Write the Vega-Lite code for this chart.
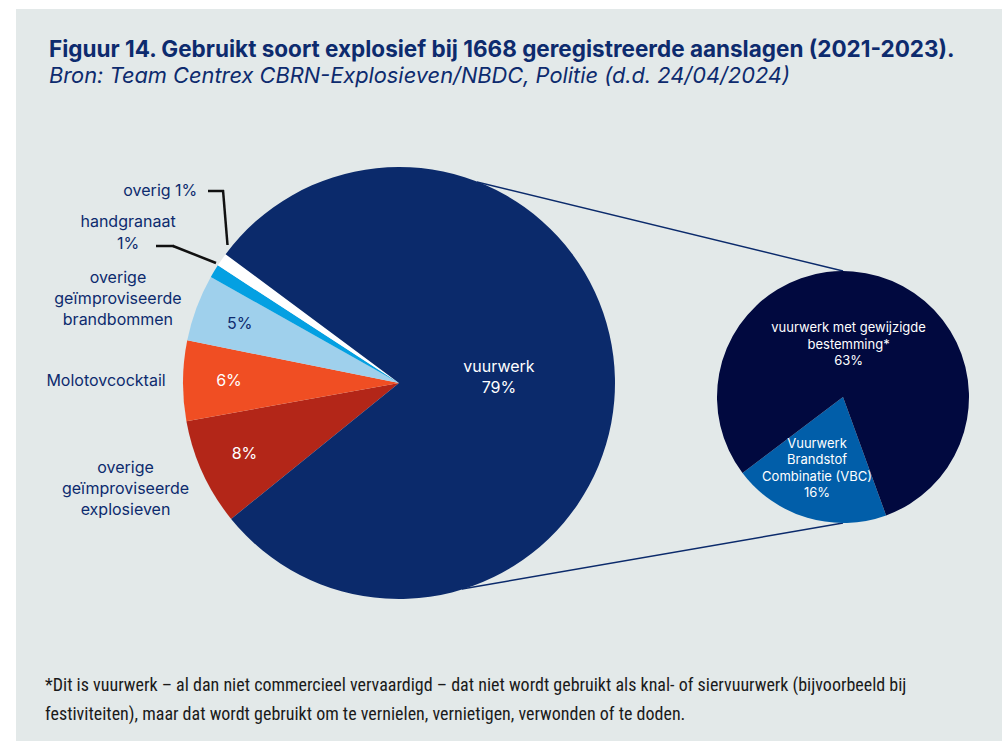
{
  "$schema": "https://vega.github.io/schema/vega-lite/v6.json",
  "width": 1002,
  "height": 741,
  "autosize": {"type": "fit", "contains": "padding"},
  "padding": {"left": 16, "top": 9, "right": 0, "bottom": 0},
  "background": "#ffffff",
  "config": {"view": {"fill": "#e3e9e9", "stroke": null}, "text": {"font": "Inter"}},
  "title": {
    "text": "Figuur 14. Gebruikt soort explosief bij 1668 geregistreerde aanslagen (2021-2023).",
    "subtitle": "Bron: Team Centrex CBRN-Explosieven/NBDC, Politie (d.d. 24/04/2024)",
    "anchor": "start",
    "frame": "group",
    "offset": -79,
    "dx": 33,
    "font": "Inter",
    "fontSize": 22.5,
    "fontWeight": "bold",
    "color": "#0d2b6e",
    "subtitleFont": "Inter",
    "subtitleFontSize": 21.8,
    "subtitleFontStyle": "italic",
    "subtitleColor": "#0d2b6e",
    "subtitlePadding": 5
  },
  "datasets": {
    "main": [
      {"nr": 1, "cat": "explosieven", "pct": 8, "label": "overige\ngeïmproviseerde\nexplosieven", "inside": "8%"},
      {"nr": 2, "cat": "molotov", "pct": 6, "label": "Molotovcocktail", "inside": "6%"},
      {"nr": 3, "cat": "brandbommen", "pct": 5, "label": "overige\ngeïmproviseerde\nbrandbommen", "inside": "5%"},
      {"nr": 4, "cat": "handgranaat", "pct": 1, "label": "handgranaat\n1%", "inside": ""},
      {"nr": 5, "cat": "overig", "pct": 1, "label": "overig 1%", "inside": ""},
      {"nr": 6, "cat": "vuurwerk", "pct": 79, "label": "", "inside": "vuurwerk\n79%"}
    ],
    "detail": [
      {"nr": 1, "cat": "vbc", "pct": 16, "label": "Vuurwerk\nBrandstof\nCombinatie (VBC)\n16%"},
      {"nr": 2, "cat": "gewijzigd", "pct": 63, "label": "vuurwerk met gewijzigde\nbestemming*\n63%"}
    ]
  },
  "resolve": {"scale": {"theta": "independent"}},
  "layer": [
    {
      "data": {"values": [{}]},
      "mark": {"type": "rule", "color": "#0b2a6b", "strokeWidth": 1.4},
      "encoding": {
        "x": {"datum": 477, "type": "quantitative", "scale": {"domain": [16, 1002], "nice": false, "zero": false}, "axis": null},
        "y": {"datum": 182, "type": "quantitative", "scale": {"domain": [9, 741], "nice": false, "zero": false, "reverse": true}, "axis": null},
        "x2": {"datum": 843},
        "y2": {"datum": 271}
      }
    },
    {
      "data": {"values": [{}]},
      "mark": {"type": "rule", "color": "#0b2a6b", "strokeWidth": 1.4},
      "encoding": {
        "x": {"datum": 462, "type": "quantitative", "scale": {"domain": [16, 1002], "nice": false, "zero": false}, "axis": null},
        "y": {"datum": 589, "type": "quantitative", "scale": {"domain": [9, 741], "nice": false, "zero": false, "reverse": true}, "axis": null},
        "x2": {"datum": 843},
        "y2": {"datum": 523}
      }
    },
    {
      "data": {"name": "main"},
      "mark": {"type": "arc", "outerRadius": 216},
      "encoding": {
        "x": {"datum": 399, "type": "quantitative", "scale": {"domain": [16, 1002], "nice": false, "zero": false}, "axis": null},
        "y": {"datum": 383, "type": "quantitative", "scale": {"domain": [9, 741], "nice": false, "zero": false, "reverse": true}, "axis": null},
        "theta": {"field": "pct", "type": "quantitative", "stack": true, "scale": {"range": [4.0317, 10.3149], "nice": false}},
        "order": {"field": "nr", "type": "quantitative"},
        "color": {
          "field": "cat", "type": "nominal", "legend": null,
          "scale": {
            "domain": ["explosieven", "molotov", "brandbommen", "handgranaat", "overig", "vuurwerk", "vbc", "gewijzigd"],
            "range": ["#b32618", "#f04e23", "#9fd0ec", "#04a0e2", "#ffffff", "#0b2a6b", "#015ea9", "#01093f"]
          }
        }
      }
    },
    {
      "data": {"name": "detail"},
      "mark": {"type": "arc", "outerRadius": 126},
      "encoding": {
        "x": {"datum": 843, "type": "quantitative", "scale": {"domain": [16, 1002], "nice": false, "zero": false}, "axis": null},
        "y": {"datum": 397, "type": "quantitative", "scale": {"domain": [9, 741], "nice": false, "zero": false, "reverse": true}, "axis": null},
        "theta": {"field": "pct", "type": "quantitative", "stack": true, "scale": {"range": [2.7925, 9.0757], "nice": false}},
        "order": {"field": "nr", "type": "quantitative"},
        "color": {"field": "cat", "type": "nominal", "legend": null}
      }
    },
    {
      "data": {"values": [{}]},
      "mark": {"type": "rule", "color": "#111111", "strokeWidth": 2.5},
      "encoding": {
        "x": {"datum": 208, "type": "quantitative", "scale": {"domain": [16, 1002], "nice": false, "zero": false}, "axis": null},
        "y": {"datum": 191, "type": "quantitative", "scale": {"domain": [9, 741], "nice": false, "zero": false, "reverse": true}, "axis": null},
        "x2": {"datum": 224},
        "y2": {"datum": 191}
      }
    },
    {
      "data": {"values": [{}]},
      "mark": {"type": "rule", "color": "#111111", "strokeWidth": 2.5},
      "encoding": {
        "x": {"datum": 223, "type": "quantitative", "scale": {"domain": [16, 1002], "nice": false, "zero": false}, "axis": null},
        "y": {"datum": 190, "type": "quantitative", "scale": {"domain": [9, 741], "nice": false, "zero": false, "reverse": true}, "axis": null},
        "x2": {"datum": 227.5},
        "y2": {"datum": 245}
      }
    },
    {
      "data": {"values": [{}]},
      "mark": {"type": "rule", "color": "#111111", "strokeWidth": 2.5},
      "encoding": {
        "x": {"datum": 156, "type": "quantitative", "scale": {"domain": [16, 1002], "nice": false, "zero": false}, "axis": null},
        "y": {"datum": 246, "type": "quantitative", "scale": {"domain": [9, 741], "nice": false, "zero": false, "reverse": true}, "axis": null},
        "x2": {"datum": 174},
        "y2": {"datum": 246}
      }
    },
    {
      "data": {"values": [{}]},
      "mark": {"type": "rule", "color": "#111111", "strokeWidth": 2.5},
      "encoding": {
        "x": {"datum": 173, "type": "quantitative", "scale": {"domain": [16, 1002], "nice": false, "zero": false}, "axis": null},
        "y": {"datum": 246, "type": "quantitative", "scale": {"domain": [9, 741], "nice": false, "zero": false, "reverse": true}, "axis": null},
        "x2": {"datum": 216},
        "y2": {"datum": 263}
      }
    },
    {
      "data": {"name": "main"},
      "mark": {"type": "text", "radius": 170, "fontSize": 16, "lineBreak": "\n", "align": "center", "baseline": "middle"},
      "encoding": {
        "x": {"datum": 399, "type": "quantitative", "scale": {"domain": [16, 1002], "nice": false, "zero": false}, "axis": null},
        "y": {"datum": 383, "type": "quantitative", "scale": {"domain": [9, 741], "nice": false, "zero": false, "reverse": true}, "axis": null},
        "theta": {"field": "pct", "type": "quantitative", "stack": true, "scale": {"range": [4.0317, 10.3149], "nice": false}},
        "order": {"field": "nr", "type": "quantitative"},
        "text": {"condition": {"test": "datum.cat !== 'vuurwerk'", "field": "inside"}, "value": ""},
        "color": {"condition": {"test": "datum.cat === 'brandbommen'", "value": "#0d2b6e"}, "value": "#ffffff"}
      }
    },
    {
      "data": {"name": "main"},
      "mark": {"type": "text", "radius": 100, "dy": -14, "fontSize": 16, "lineHeight": 21, "lineBreak": "\n", "align": "center", "baseline": "middle", "color": "#ffffff"},
      "encoding": {
        "x": {"datum": 399, "type": "quantitative", "scale": {"domain": [16, 1002], "nice": false, "zero": false}, "axis": null},
        "y": {"datum": 383, "type": "quantitative", "scale": {"domain": [9, 741], "nice": false, "zero": false, "reverse": true}, "axis": null},
        "theta": {"field": "pct", "type": "quantitative", "stack": true, "scale": {"range": [4.0317, 10.3149], "nice": false}},
        "order": {"field": "nr", "type": "quantitative"},
        "text": {"condition": {"test": "datum.cat === 'vuurwerk'", "field": "inside"}, "value": ""}
      }
    },
    {
      "data": {"name": "main"},
      "mark": {"type": "text", "radius": 270, "dx": -28, "dy": -27, "fontSize": 16, "lineHeight": 21, "lineBreak": "\n", "align": "center", "baseline": "middle", "color": "#0d2b6e"},
      "encoding": {
        "x": {"datum": 399, "type": "quantitative", "scale": {"domain": [16, 1002], "nice": false, "zero": false}, "axis": null},
        "y": {"datum": 383, "type": "quantitative", "scale": {"domain": [9, 741], "nice": false, "zero": false, "reverse": true}, "axis": null},
        "theta": {"field": "pct", "type": "quantitative", "stack": true, "scale": {"range": [4.0317, 10.3149], "nice": false}},
        "order": {"field": "nr", "type": "quantitative"},
        "text": {"condition": {"test": "datum.cat === 'explosieven'", "field": "label"}, "value": ""}
      }
    },
    {
      "data": {"name": "main"},
      "mark": {"type": "text", "radius": 270, "dx": -23, "dy": 1, "fontSize": 16, "lineHeight": 21, "lineBreak": "\n", "align": "center", "baseline": "middle", "color": "#0d2b6e"},
      "encoding": {
        "x": {"datum": 399, "type": "quantitative", "scale": {"domain": [16, 1002], "nice": false, "zero": false}, "axis": null},
        "y": {"datum": 383, "type": "quantitative", "scale": {"domain": [9, 741], "nice": false, "zero": false, "reverse": true}, "axis": null},
        "theta": {"field": "pct", "type": "quantitative", "stack": true, "scale": {"range": [4.0317, 10.3149], "nice": false}},
        "order": {"field": "nr", "type": "quantitative"},
        "text": {"condition": {"test": "datum.cat === 'molotov'", "field": "label"}, "value": ""}
      }
    },
    {
      "data": {"name": "main"},
      "mark": {"type": "text", "radius": 270, "dx": -28, "dy": -11, "fontSize": 16, "lineHeight": 21, "lineBreak": "\n", "align": "center", "baseline": "middle", "color": "#0d2b6e"},
      "encoding": {
        "x": {"datum": 399, "type": "quantitative", "scale": {"domain": [16, 1002], "nice": false, "zero": false}, "axis": null},
        "y": {"datum": 383, "type": "quantitative", "scale": {"domain": [9, 741], "nice": false, "zero": false, "reverse": true}, "axis": null},
        "theta": {"field": "pct", "type": "quantitative", "stack": true, "scale": {"range": [4.0317, 10.3149], "nice": false}},
        "order": {"field": "nr", "type": "quantitative"},
        "text": {"condition": {"test": "datum.cat === 'brandbommen'", "field": "label"}, "value": ""}
      }
    },
    {
      "data": {"name": "main"},
      "mark": {"type": "text", "radius": 270, "dx": -40, "dy": -21, "fontSize": 16, "lineHeight": 22, "lineBreak": "\n", "align": "center", "baseline": "middle", "color": "#0d2b6e"},
      "encoding": {
        "x": {"datum": 399, "type": "quantitative", "scale": {"domain": [16, 1002], "nice": false, "zero": false}, "axis": null},
        "y": {"datum": 383, "type": "quantitative", "scale": {"domain": [9, 741], "nice": false, "zero": false, "reverse": true}, "axis": null},
        "theta": {"field": "pct", "type": "quantitative", "stack": true, "scale": {"range": [4.0317, 10.3149], "nice": false}},
        "order": {"field": "nr", "type": "quantitative"},
        "text": {"condition": {"test": "datum.cat === 'handgranaat'", "field": "label"}, "value": ""}
      }
    },
    {
      "data": {"name": "main"},
      "mark": {"type": "text", "radius": 270, "dx": 20, "dy": -38, "fontSize": 16, "lineBreak": "\n", "align": "right", "baseline": "middle", "color": "#0d2b6e"},
      "encoding": {
        "x": {"datum": 399, "type": "quantitative", "scale": {"domain": [16, 1002], "nice": false, "zero": false}, "axis": null},
        "y": {"datum": 383, "type": "quantitative", "scale": {"domain": [9, 741], "nice": false, "zero": false, "reverse": true}, "axis": null},
        "theta": {"field": "pct", "type": "quantitative", "stack": true, "scale": {"range": [4.0317, 10.3149], "nice": false}},
        "order": {"field": "nr", "type": "quantitative"},
        "text": {"condition": {"test": "datum.cat === 'overig'", "field": "label"}, "value": ""}
      }
    },
    {
      "data": {"name": "detail"},
      "mark": {"type": "text", "radius": 74, "dx": -5, "dy": -24, "fontSize": 13, "lineHeight": 16.5, "lineBreak": "\n", "align": "center", "baseline": "middle", "color": "#ffffff"},
      "encoding": {
        "x": {"datum": 843, "type": "quantitative", "scale": {"domain": [16, 1002], "nice": false, "zero": false}, "axis": null},
        "y": {"datum": 397, "type": "quantitative", "scale": {"domain": [9, 741], "nice": false, "zero": false, "reverse": true}, "axis": null},
        "theta": {"field": "pct", "type": "quantitative", "stack": true, "scale": {"range": [2.7925, 9.0757], "nice": false}},
        "order": {"field": "nr", "type": "quantitative"},
        "text": {"condition": {"test": "datum.cat === 'vbc'", "field": "label"}, "value": ""}
      }
    },
    {
      "data": {"name": "detail"},
      "mark": {"type": "text", "radius": 55, "dx": -10, "dy": -16, "fontSize": 13, "lineHeight": 16.5, "lineBreak": "\n", "align": "center", "baseline": "middle", "color": "#ffffff"},
      "encoding": {
        "x": {"datum": 843, "type": "quantitative", "scale": {"domain": [16, 1002], "nice": false, "zero": false}, "axis": null},
        "y": {"datum": 397, "type": "quantitative", "scale": {"domain": [9, 741], "nice": false, "zero": false, "reverse": true}, "axis": null},
        "theta": {"field": "pct", "type": "quantitative", "stack": true, "scale": {"range": [2.7925, 9.0757], "nice": false}},
        "order": {"field": "nr", "type": "quantitative"},
        "text": {"condition": {"test": "datum.cat === 'gewijzigd'", "field": "label"}, "value": ""}
      }
    },
    {
      "data": {"values": [{}]},
      "mark": {"type": "text", "align": "left", "baseline": "alphabetic", "font": "Roboto Condensed, DejaVu Sans Condensed, Roboto, sans-serif", "fontSize": 18, "lineHeight": 29, "color": "#1a1a1a"},
      "encoding": {
        "x": {"datum": 45, "type": "quantitative", "scale": {"domain": [16, 1002], "nice": false, "zero": false}, "axis": null},
        "y": {"datum": 691, "type": "quantitative", "scale": {"domain": [9, 741], "nice": false, "zero": false, "reverse": true}, "axis": null},
        "text": {"value": ["*Dit is vuurwerk – al dan niet commercieel vervaardigd – dat niet wordt gebruikt als knal- of siervuurwerk (bijvoorbeeld bij", "festiviteiten), maar dat wordt gebruikt om te vernielen, vernietigen, verwonden of te doden."]}
      }
    }
  ]
}
